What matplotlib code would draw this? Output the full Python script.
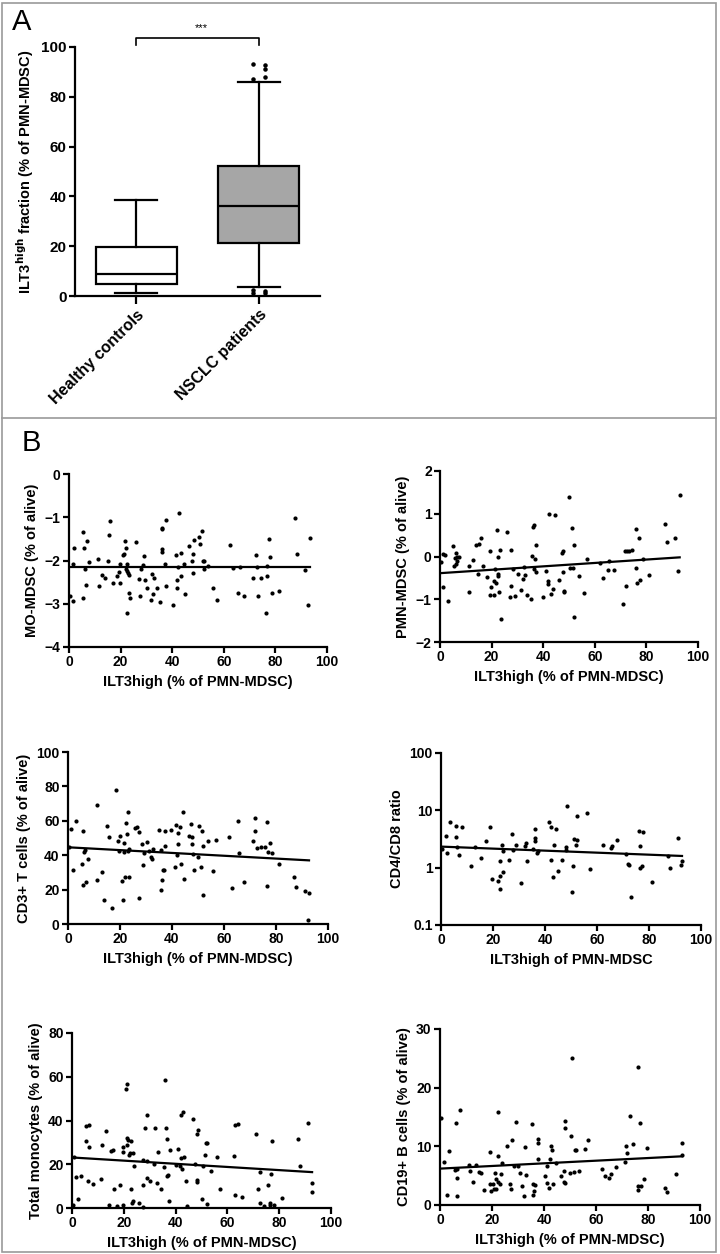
import matplotlib.pyplot as plt
from matplotlib.patches import Rectangle
from matplotlib.lines import Line2D

plt.rcParams['font.family'] = ['Liberation Sans', 'DejaVu Sans']
plt.rcParams['font.weight'] = 'bold'
plt.rcParams['mathtext.default'] = 'bf'

W, H = 720, 1254

# ---- panel A: box plot stats ----
groups = ["Healthy controls", "NSCLC patients"]
box_fill = ["white", "#a6a6a6"]
whis_lo = [1.2, 3.6]
q1 = [4.7, 21.1]
med = [8.7, 36.0]
q3 = [19.8, 52.1]
whis_hi = [38.7, 85.8]
nsclc_outliers = [92.6, 93.0, 91.2, 87.1, 87.8, 2.4, 1.1, 1.1, 2.0]

# ---- panel B scatter data (x = ILT3high % of PMN-MDSC) ----
b1_x = [0.4, 1.4, 1.4, 2.1, 5.3, 5.6, 5.8, 6.3, 6.6, 6.9, 7.9, 11.4, 11.5, 12.9, 14.1, 15.3, 15.6, 16.0,
        16.9, 18.5, 19.5, 19.8, 19.9, 21.1, 21.3, 21.6, 21.9, 22.2, 22.4, 22.6, 22.9, 22.6, 23.3, 23.4,
        23.7, 26.1, 27.2, 27.6, 28.1, 28.6, 28.9, 29.5, 30.4, 31.7, 32.2, 32.7, 33.1, 34.1, 35.2, 35.9,
        36.2, 36.1, 36.2, 37.4, 37.5, 37.6, 40.2, 41.4, 42.0, 42.2, 42.0, 42.7, 43.3, 43.5, 44.4, 44.8,
        46.7, 47.6, 48.1, 48.1, 48.4, 50.3, 50.7, 51.5, 51.9, 52.3, 52.3, 54.0, 56.0, 57.2, 62.4, 63.4,
        66.2, 65.6, 67.9, 71.4, 72.3, 72.7, 73.2, 74.6, 76.5, 76.7, 76.8, 77.4, 78.0, 78.8, 81.5, 87.5,
        88.2, 91.3, 92.8, 93.3]
b1_y = [-2.81, -2.94, -2.09, -1.70, -1.34, -2.87, -1.72, -2.19, -2.56, -1.54, -2.04, -1.97, -2.59, -2.34,
        -2.40, -2.01, -1.42, -1.09, -2.53, -2.36, -2.27, -2.53, -2.07, -1.87, -1.84, -1.55, -2.20, -1.71,
        -2.25, -2.07, -2.30, -3.21, -2.33, -2.76, -2.87, -1.57, -2.42, -2.81, -2.20, -2.10, -1.89, -2.44,
        -2.64, -2.91, -2.32, -2.78, -2.40, -2.63, -2.95, -1.28, -1.24, -1.73, -1.80, -2.07, -2.60, -1.06,
        -3.03, -1.87, -2.44, -2.16, -2.63, -0.90, -1.83, -2.36, -2.08, -2.78, -1.67, -2.00, -1.85, -2.30,
        -1.52, -1.45, -1.61, -1.31, -2.02, -2.00, -2.19, -2.13, -2.63, -2.91, -1.64, -2.18, -2.16, -2.76,
        -2.81, -2.40, -1.87, -2.16, -2.81, -2.41, -3.21, -2.12, -2.35, -1.50, -1.91, -2.76, -2.71, -1.01,
        -1.85, -2.23, -3.03, -1.49]
b1_fit = [-2.16, -2.16]

b2_x = [0.4, 1.3, 1.3, 2.1, 3.0, 5.2, 5.4, 5.8, 6.2, 6.1, 6.5, 6.6, 7.5, 11.1, 11.4, 12.8, 13.8, 14.8,
        15.2, 15.7, 16.8, 18.3, 19.4, 19.4, 19.9, 20.9, 20.9, 21.3, 21.7, 22.1, 22.5, 22.5, 22.6, 22.8,
        23.2, 23.6, 25.8, 27.1, 27.4, 27.7, 28.3, 29.0, 30.1, 31.5, 32.0, 32.5, 32.8, 33.9, 35.1, 35.6,
        35.9, 36.3, 36.4, 37.0, 37.2, 37.4, 39.9, 41.0, 41.7, 41.9, 42.3, 43.0, 43.9, 44.4, 46.3, 47.1,
        47.6, 47.7, 47.9, 48.1, 49.9, 50.3, 51.1, 51.5, 51.9, 51.9, 53.7, 55.9, 56.9, 62.1, 63.2, 65.5,
        65.3, 67.6, 71.1, 71.7, 72.1, 72.5, 73.3, 74.3, 76.0, 76.1, 76.5, 77.0, 77.6, 78.5, 81.0, 87.1,
        87.9, 91.0, 92.4, 92.9]
b2_y = [-0.14, -0.72, 0.07, 0.04, -1.04, 0.25, -0.22, -0.04, 0.09, -0.17, -0.10, 0.00, 0.00, -0.23,
        -0.82, -0.08, 0.26, -0.40, 0.30, 0.44, -0.22, -0.49, 0.14, -0.90, -0.71, -0.90, -0.58, -0.30,
        -0.62, 0.61, 0.00, -0.41, -0.45, -0.82, 0.15, -1.46, 0.58, -0.95, 0.16, -0.69, -0.30, -0.93,
        -0.41, -0.79, -0.52, -0.25, -0.43, -0.91, -1.00, 0.02, 0.68, 0.73, -0.29, -0.05, 0.28, -0.36,
        -0.95, -0.33, -0.57, -0.65, 1.00, -0.87, -0.76, 0.98, -0.54, 0.08, 0.14, -0.37, -0.80, -0.83,
        1.39, -0.28, 0.66, -0.28, 0.26, -1.41, -0.45, -0.86, -0.05, -0.16, -0.50, -0.11, -0.32, -0.32,
        -1.11, 0.12, -0.68, 0.13, 0.14, 0.16, -0.26, 0.65, -0.62, 0.44, -0.55, -0.05, -0.44, 0.77, 0.33,
        0.44, -0.33, 1.45]
b2_fit = [-0.39, -0.02]

b3_x = [0.3, 1.3, 2.1, 3.2, 5.3, 5.7, 5.8, 6.3, 6.6, 6.8, 7.7, 11.1, 11.3, 12.9, 14.0, 14.9, 15.6, 16.8,
        18.4, 19.3, 19.5, 20.0, 20.8, 21.1, 21.6, 21.7, 22.1, 22.4, 22.5, 22.9, 23.0, 23.4, 23.4, 25.7,
        26.6, 27.2, 27.4, 28.4, 28.7, 29.2, 30.2, 31.2, 31.9, 32.3, 32.6, 35.1, 35.7, 35.9, 36.0, 36.4,
        37.0, 37.3, 37.4, 39.7, 41.0, 41.4, 41.9, 42.2, 42.4, 42.9, 43.3, 44.1, 44.5, 46.7, 47.4, 47.7,
        47.8, 47.9, 48.3, 50.0, 50.4, 51.0, 51.5, 51.9, 52.1, 53.7, 55.8, 56.9, 61.9, 63.1, 65.2, 65.8,
        67.6, 71.1, 71.9, 72.1, 72.8, 74.4, 75.8, 76.4, 76.4, 77.0, 77.6, 78.5, 81.1, 87.0, 87.7, 91.0,
        92.7, 92.3]
b3_y = [45.0, 55.4, 31.6, 60.1, 34.9, 54.3, 22.9, 42.1, 43.0, 24.6, 38.0, 25.6, 69.4, 30.4, 14.1, 56.8,
        50.6, 9.5, 78.1, 48.4, 42.4, 51.2, 25.2, 14.1, 46.9, 41.9, 27.1, 58.5, 52.5, 65.1, 42.6, 27.1,
        43.8, 55.8, 56.6, 53.5, 15.1, 46.3, 34.1, 41.5, 47.7, 42.2, 39.1, 38.0, 43.4, 54.8, 43.0, 19.6,
        25.6, 31.4, 31.4, 54.1, 45.2, 54.8, 33.3, 57.6, 40.3, 46.7, 52.9, 56.4, 35.1, 65.1, 26.4, 51.0,
        58.3, 50.6, 46.3, 40.7, 31.4, 38.8, 57.2, 33.3, 53.9, 45.5, 17.1, 48.1, 30.6, 48.6, 50.8, 21.1,
        59.9, 41.1, 24.2, 48.1, 54.1, 61.6, 44.4, 45.0, 45.0, 59.1, 21.9, 42.1, 46.9, 41.1, 35.1, 27.1,
        21.5, 19.4, 18.2, 2.1]
b3_fit = [44.6, 37.0]

b4_x = [0.5, 1.8, 2.4, 3.5, 5.6, 5.9, 6.3, 6.8, 8.2, 11.5, 13.2, 15.4, 17.2, 18.8, 19.6, 22.1, 22.7,
        22.8, 22.8, 23.3, 23.7, 24.0, 26.2, 27.3, 27.7, 29.0, 30.6, 32.2, 32.8, 33.1, 35.4, 36.2, 36.2,
        36.3, 36.8, 37.4, 41.5, 42.2, 42.3, 42.9, 43.5, 44.2, 44.9, 46.7, 47.9, 48.1, 48.5, 50.3, 50.6,
        51.3, 51.9, 52.2, 52.4, 56.2, 57.2, 62.3, 65.5, 65.9, 67.8, 71.2, 72.1, 72.3, 73.2, 76.2, 76.7,
        76.7, 77.3, 77.8, 81.2, 87.2, 87.9, 91.2, 92.3, 92.7]
b4_y = [2.10, 3.56, 1.81, 6.25, 5.25, 3.48, 2.27, 1.65, 5.05, 1.05, 2.30, 1.46, 2.96, 5.12, 0.64, 0.58,
        0.71, 0.43, 1.31, 2.52, 0.85, 1.96, 1.38, 3.86, 2.04, 2.52, 0.54, 2.36, 2.70, 1.31, 2.10, 4.66,
        3.29, 2.92, 1.78, 1.99, 6.17, 5.12, 1.35, 0.69, 2.52, 4.66, 0.88, 1.35, 2.33, 2.01, 11.9, 0.38,
        1.05, 3.16, 2.52, 7.83, 3.04, 8.83, 0.95, 2.52, 2.21, 2.39, 3.08, 1.71, 1.18, 1.12, 0.31, 4.35,
        2.36, 0.97, 1.05, 4.13, 0.57, 1.58, 1.00, 3.34, 1.13, 1.33]
b4_fit = [2.33, 1.60]

b5_x = [0.2, 0.9, 1.4, 2.3, 3.4, 5.5, 5.3, 6.4, 6.5, 6.2, 8.0, 11.5, 11.3, 13.1, 14.2, 15.2, 15.9, 16.1,
        17.2, 18.4, 19.5, 19.6, 19.6, 20.7, 21.4, 21.1, 21.4, 21.8, 22.1, 22.5, 22.8, 22.8, 23.0, 23.4,
        23.7, 23.9, 26.0, 27.3, 27.6, 27.6, 28.1, 28.8, 28.8, 29.0, 30.3, 31.7, 32.2, 32.7, 33.1, 34.2,
        35.4, 35.9, 36.3, 36.5, 36.8, 37.2, 37.5, 37.7, 40.0, 41.1, 41.6, 42.0, 42.1, 42.5, 43.0, 43.2,
        44.1, 44.4, 46.7, 47.6, 48.1, 48.3, 48.3, 48.7, 50.1, 50.4, 51.3, 51.7, 52.0, 52.2, 53.8, 55.9,
        57.0, 62.5, 62.8, 63.0, 63.9, 65.5, 71.2, 71.9, 72.4, 72.7, 74.0, 75.6, 76.3, 76.5, 77.0, 77.2,
        78.1, 81.2, 87.3, 88.0, 91.0, 92.6, 92.7]
b5_y = [1.5, 23.4, 14.2, 4.0, 14.7, 30.8, 37.5, 37.8, 27.7, 12.5, 11.1, 28.9, 13.2, 35.4, 1.2, 25.9, 26.5,
        8.5, 1.1, 10.7, 27.9, 25.5, 1.4, 54.3, 56.8, 32.0, 28.6, 31.3, 24.3, 25.1, 30.8, 8.8, 2.3, 25.1,
        3.1, 19.3, 2.3, 22.1, 10.4, 0.3, 36.4, 42.7, 21.5, 13.8, 12.5, 20.1, 36.7, 11.3, 25.5, 8.5, 18.6,
        58.7, 36.4, 14.7, 31.7, 15.3, 3.1, 26.5, 19.8, 27.1, 19.3, 42.6, 22.8, 17.8, 44.0, 23.1, 12.5,
        0.9, 40.7, 20.0, 11.9, 33.9, 12.7, 35.6, 4.2, 19.3, 24.3, 29.9, 29.6, 1.9, 16.7, 23.2, 8.5, 24.0,
        5.9, 37.8, 38.5, 5.1, 33.9, 8.5, 16.6, 2.2, 1.1, 10.5, 2.3, 1.5, 15.6, 30.5, 1.4, 4.5, 31.7, 19.3,
        39.0, 7.1, 11.3]
b5_fit = [23.1, 16.4]

b6_x = [0.4, 1.4, 2.5, 3.5, 5.7, 6.0, 6.7, 6.4, 6.7, 7.6, 11.1, 11.5, 12.8, 13.8, 15.0, 15.7, 17.0, 19.1,
        19.4, 19.8, 20.5, 20.8, 21.0, 21.4, 21.7, 22.3, 22.4, 22.4, 23.0, 23.5, 24.0, 25.8, 27.0, 27.2,
        27.6, 28.4, 29.3, 30.0, 30.6, 31.6, 32.3, 32.7, 32.9, 35.3, 35.7, 35.9, 36.0, 36.4, 37.5, 37.5,
        37.6, 40.3, 41.2, 41.3, 41.9, 42.4, 42.8, 42.9, 43.6, 44.7, 46.5, 47.7, 47.7, 47.9, 47.9, 48.1,
        50.0, 50.4, 50.9, 51.6, 51.9, 52.3, 53.5, 55.8, 56.9, 62.2, 63.4, 65.0, 65.7, 67.7, 71.0, 71.7,
        72.1, 73.0, 74.2, 76.1, 76.0, 76.3, 76.9, 77.4, 78.3, 79.5, 86.7, 87.3, 90.8, 92.9, 93.1]
b6_y = [14.9, 7.3, 1.7, 9.2, 6.0, 13.9, 6.1, 1.6, 4.6, 16.2, 6.8, 5.8, 4.0, 6.9, 5.6, 5.4, 2.6, 3.6, 9.1,
        2.4, 3.6, 2.7, 5.5, 4.5, 2.7, 15.8, 8.4, 3.9, 3.6, 5.3, 7.1, 10.1, 3.6, 2.8, 11.1, 6.6, 14.2, 6.6,
        5.5, 3.3, 1.5, 9.9, 5.1, 13.8, 1.7, 3.5, 2.4, 3.4, 11.3, 10.5, 7.9, 5.0, 3.8, 6.7, 2.9, 7.9, 10.0,
        9.3, 3.5, 7.1, 5.0, 3.9, 5.8, 3.7, 14.4, 13.1, 5.5, 11.8, 25.0, 5.6, 9.4, 9.3, 5.8, 9.6, 11.0,
        6.2, 5.0, 4.6, 5.2, 6.5, 7.3, 10.1, 8.8, 15.2, 10.4, 23.6, 2.5, 3.2, 14.0, 3.3, 4.5, 9.8, 2.9,
        2.3, 5.3, 8.6, 10.6]
b6_fit = [6.2, 8.3]

fig = plt.figure(figsize=(W / 100, H / 100), dpi=100)


def add_ax(l, r, t, b):
    return fig.add_axes([l / W, 1 - b / H, (r - l) / W, (b - t) / H])


def style(ax, size=10, lw=1.6):
    for s in ["top", "right"]:
        ax.spines[s].set_visible(False)
    for s in ["left", "bottom"]:
        ax.spines[s].set_linewidth(lw)
    ax.tick_params(direction="out", length=4, width=lw, labelsize=size, pad=2)
    for lab in ax.get_xticklabels() + ax.get_yticklabels():
        lab.set_fontweight("bold")


# ---------------- panel A ----------------
axA = add_ax(75, 320, 47, 296)
stats = []
for i in range(2):
    stats.append(dict(med=med[i], q1=q1[i], q3=q3[i], whislo=whis_lo[i], whishi=whis_hi[i], fliers=[]))
bp = axA.bxp(stats, positions=[1, 2], widths=0.66, capwidths=0.34, patch_artist=True,
             boxprops=dict(linewidth=1.6, edgecolor="black"),
             medianprops=dict(color="black", linewidth=1.6),
             whiskerprops=dict(linewidth=1.6), capprops=dict(linewidth=1.6))
for patch, c in zip(bp["boxes"], box_fill):
    patch.set_facecolor(c)
for artist in bp["caps"] + bp["whiskers"]:
    artist.set_clip_on(False)
offs = [0.05 * (-1) ** i for i in range(len(nsclc_outliers))]
axA.scatter([2 + o for o in offs], nsclc_outliers, s=5, color="black", clip_on=False, zorder=5)
axA.set_xlim(0.5, 2.5)
axA.set_ylim(0, 100)
axA.set_yticks([0, 20, 40, 60, 80, 100])
axA.set_xticks([1, 2])
axA.set_xticklabels(groups, rotation=45, ha="right", rotation_mode="anchor")
style(axA, size=11)
axA.tick_params(axis="x", length=6, labelsize=11.5)
axA.set_ylabel("ILT3$^{high}$ fraction (% of PMN-MDSC)", fontsize=10.5, fontweight="bold", labelpad=4)
axA.plot([1, 1, 2, 2], [101, 103.8, 103.8, 101], color="black", lw=1.2, clip_on=False)
axA.text(1.53, 107.5, "***", ha="center", va="center", fontsize=8, fontweight="normal")

# ---------------- panel B ----------------
xlab = "ILT3high (% of PMN-MDSC)"
panels = [
    (add_ax(69, 327, 474, 647), b1_x, b1_y, b1_fit, "MO-MDSC (% of alive)", xlab, (-4, 0), [-4, -3, -2, -1, 0]),
    (add_ax(440, 698, 471, 642), b2_x, b2_y, b2_fit, "PMN-MDSC (% of alive)", xlab, (-2, 2), [-2, -1, 0, 1, 2]),
    (add_ax(68, 328, 752, 924), b3_x, b3_y, b3_fit, "CD3+ T cells (% of alive)", xlab, (0, 100), [0, 20, 40, 60, 80, 100]),
    (add_ax(441, 701, 753, 925), b4_x, b4_y, b4_fit, "CD4/CD8 ratio", "ILT3high of PMN-MDSC", (0.1, 100), [0.1, 1, 10, 100]),
    (add_ax(72, 331, 1033, 1208), b5_x, b5_y, b5_fit, "Total monocytes (% of alive)", xlab, (0, 80), [0, 20, 40, 60, 80]),
    (add_ax(440, 700, 1029, 1205), b6_x, b6_y, b6_fit, "CD19+ B cells (% of alive)", xlab, (0, 30), [0, 10, 20, 30]),
]
for ax, x, y, fit, ylab, xl, ylim, yt in panels:
    ax.scatter(x, y, s=9, color="black", linewidths=0, clip_on=False, zorder=3)
    ax.plot([0, max(x)], fit, color="black", lw=1.6)
    if ylim[0] == 0.1:
        ax.set_yscale("log")
        ax.minorticks_off()
        ax.set_yticks(yt)
        ax.set_yticklabels(["0.1", "1", "10", "100"])
    else:
        ax.set_yticks(yt)
    ax.set_ylim(*ylim)
    ax.set_xlim(0, 100)
    ax.set_xticks([0, 20, 40, 60, 80, 100])
    style(ax)
    ax.set_xlabel(xl, fontsize=10.5, fontweight="bold", labelpad=4)
    ax.set_ylabel(ylab, fontsize=10.5, fontweight="bold", labelpad=4)

fig.text(12 / W, 1 - 22 / H, "A", fontsize=21, fontweight="normal", va="center")
fig.text(22 / W, 1 - 443 / H, "B", fontsize=21, fontweight="normal", va="center")

# frame and separator
fig.patches.append(Rectangle((2 / W, 2 / H), 714 / W, 1249 / H, transform=fig.transFigure,
                             fill=False, edgecolor="#9a9a9a", lw=1.2))
fig.lines.append(Line2D([2 / W, 716 / W], [1 - 418 / H, 1 - 418 / H], transform=fig.transFigure,
                        color="#9a9a9a", lw=1.2))

fig.savefig("out.png", dpi=100)
